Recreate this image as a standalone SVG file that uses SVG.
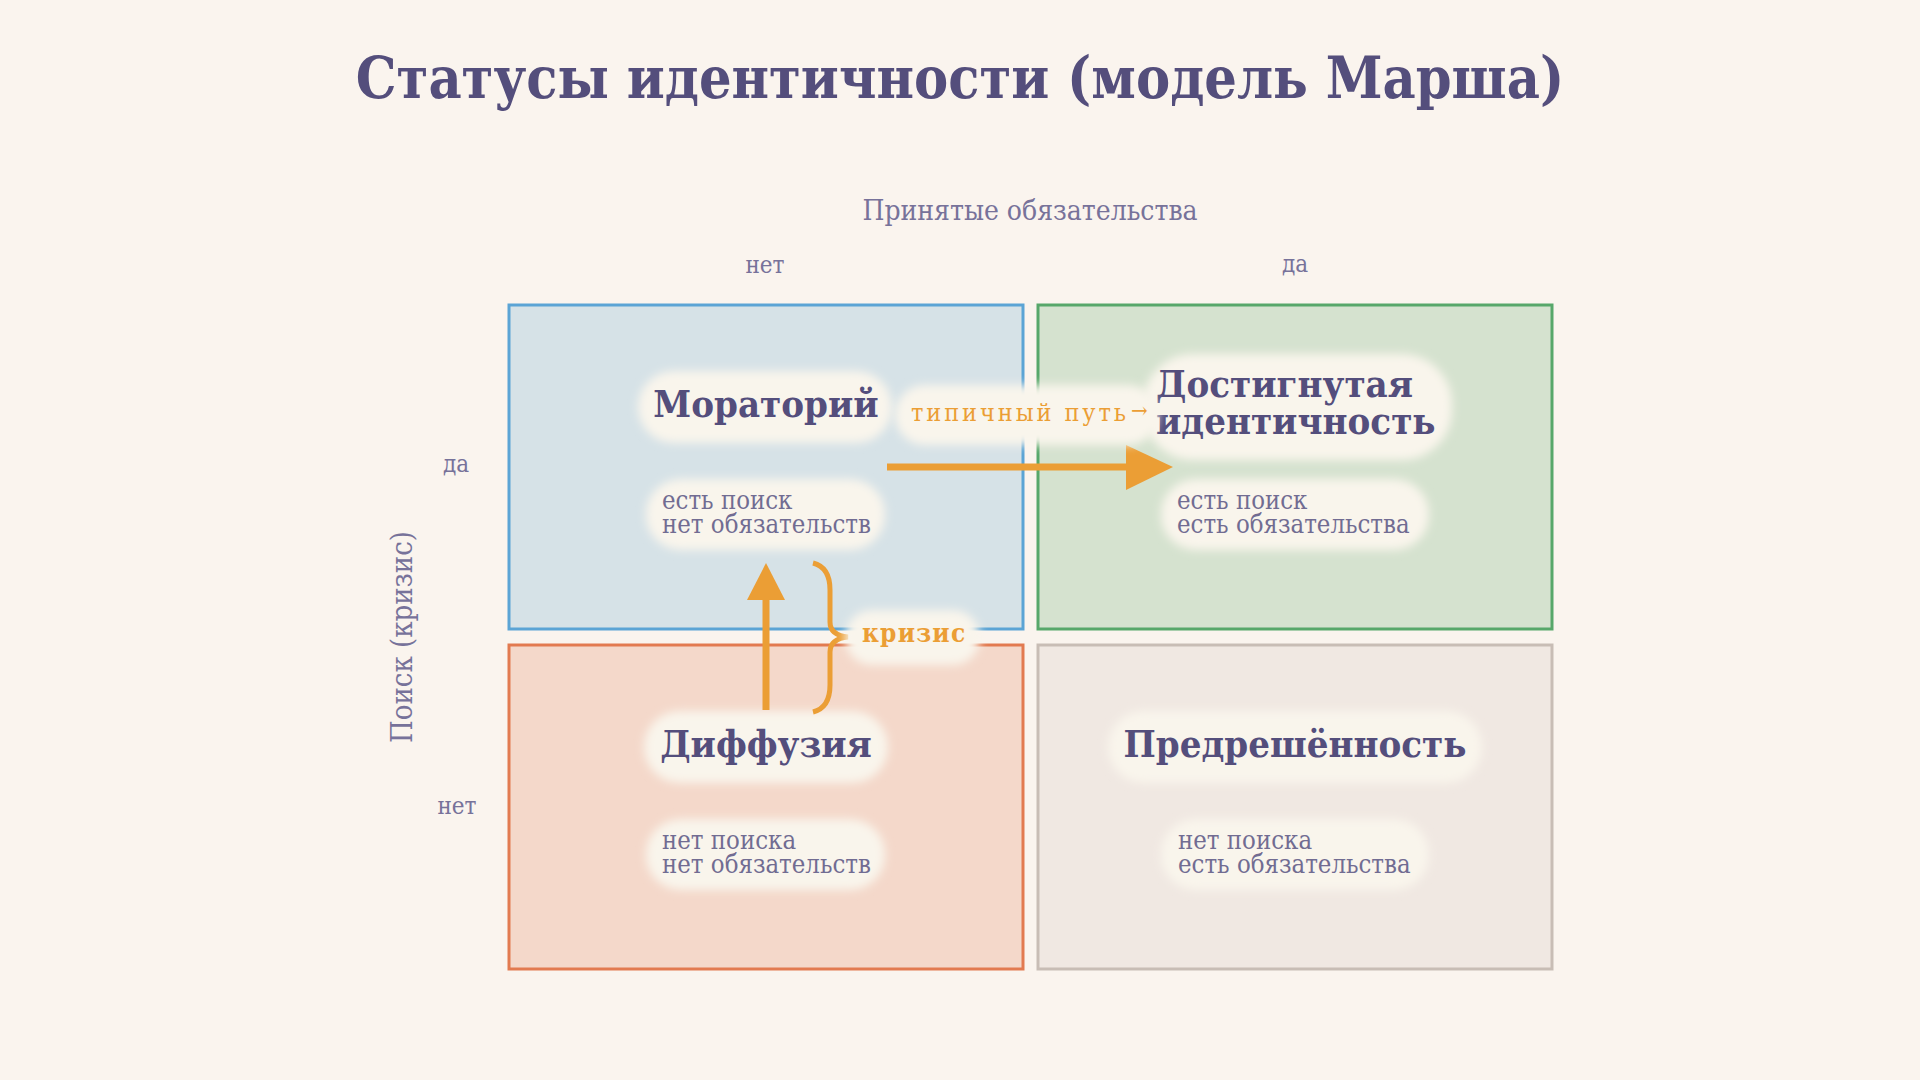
<svg xmlns="http://www.w3.org/2000/svg" width="1920" height="1080" viewBox="0 0 1920 1080">
<defs>
<filter id="glow" x="-20%" y="-40%" width="140%" height="180%">
<feGaussianBlur stdDeviation="5"/>
</filter>
<style>
text{font-family:'DejaVu Serif Condensed','DejaVu Serif',serif;font-stretch:condensed}
.title{font-size:57px;font-weight:bold;fill:#544E7C}
.axis{font-size:28px;fill:#77729A}
.axv{font-size:29px;fill:#77729A}
.tick{font-size:24px;fill:#77729A}
.lbl{font-size:38px;font-weight:bold;fill:#544E7C}
.sub{font-size:25.5px;fill:#716C92}
.edge{fill:#EB9E35}
.pill{fill:#F9F5EC;filter:url(#glow)}
.cell{stroke-width:3}
</style>
</defs>
<rect width="1920" height="1080" fill="#FAF4EE"/>
<text class="title" x="960" y="98" text-anchor="middle">Статусы идентичности (модель Марша)</text>
<g id="axes">
<text class="axis" x="1030" y="220" text-anchor="middle">Принятые обязательства</text>
<text class="tick" x="765" y="273" text-anchor="middle">нет</text>
<text class="tick" x="1295" y="272" text-anchor="middle">да</text>
<text class="axv" transform="translate(412,637) rotate(-90)" text-anchor="middle">Поиск (кризис)</text>
<text class="tick" x="456" y="472" text-anchor="middle">да</text>
<text class="tick" x="457" y="814" text-anchor="middle">нет</text>
</g>
<g id="cells">
<rect class="cell" x="509" y="305" width="514" height="324" fill="#D6E2E7" stroke="#5BA4D5"/>
<rect class="cell" x="1038" y="305" width="514" height="324" fill="#D5E2CF" stroke="#57A76A"/>
<rect class="cell" x="509" y="645" width="514" height="324" fill="#F4D8CA" stroke="#E27A50"/>
<rect class="cell" x="1038" y="645" width="514" height="324" fill="#F0E8E2" stroke="#C8BDB5"/>
</g>
<g id="node-moratorium">
<rect class="pill" x="638" y="371" width="254" height="72" rx="36"/>
<text class="lbl" x="766" y="417" text-anchor="middle">Мораторий</text>
<rect class="pill" x="646" y="479" width="239" height="71" rx="35"/>
<text class="sub" x="662" y="509">есть поиск</text>
<text class="sub" x="662" y="533">нет обязательств</text>
</g>
<g id="node-achievement">
<rect class="pill" x="1143" y="354" width="309" height="106" rx="50"/>
<text class="lbl" x="1156" y="397">Достигнутая</text>
<text class="lbl" x="1156" y="434">идентичность</text>
<rect class="pill" x="1161" y="479" width="268" height="71" rx="35"/>
<text class="sub" x="1177" y="509">есть поиск</text>
<text class="sub" x="1177" y="533">есть обязательства</text>
</g>
<g id="node-diffusion">
<rect class="pill" x="644" y="711" width="244" height="72" rx="36"/>
<text class="lbl" x="766" y="757" text-anchor="middle">Диффузия</text>
<rect class="pill" x="646" y="819" width="239" height="71" rx="35"/>
<text class="sub" x="662" y="849">нет поиска</text>
<text class="sub" x="662" y="873">нет обязательств</text>
</g>
<g id="node-foreclosure">
<rect class="pill" x="1108" y="711" width="374" height="72" rx="36"/>
<text class="lbl" x="1295" y="757" text-anchor="middle">Предрешённость</text>
<rect class="pill" x="1161" y="819" width="268" height="71" rx="35"/>
<text class="sub" x="1178" y="849">нет поиска</text>
<text class="sub" x="1178" y="873">есть обязательства</text>
</g>
<g id="connectors">
<line x1="887" y1="467" x2="1128" y2="467" stroke="#EB9E35" stroke-width="7"/>
<polygon class="edge" points="1126,445 1173,467 1126,490"/>
<line x1="766" y1="710" x2="766" y2="598" stroke="#EB9E35" stroke-width="7"/>
<polygon class="edge" points="747,600 766,563 785,600"/>
<path d="M813 563 C825 566 830 575 830 590 L830 622 C830 632 838 636 848 637 C838 638 830 642 830 652 L830 685 C830 700 825 709 813 712" fill="none" stroke="#EB9E35" stroke-width="5"/>
</g>
<g id="label-path">
<rect class="pill" x="895" y="385" width="263" height="60" rx="30"/>
<text x="911" y="421" font-size="25" fill="#EB9E35" letter-spacing="2.9">типичный путь<tspan font-size="22" dx="2" dy="-3">→</tspan></text>
</g>
<g id="label-crisis">
<rect class="pill" x="845" y="610" width="135" height="55" rx="27"/>
<text x="862" y="642" font-size="26" font-weight="bold" fill="#EB9E35" letter-spacing="1.2">кризис</text>
</g>
</svg>
